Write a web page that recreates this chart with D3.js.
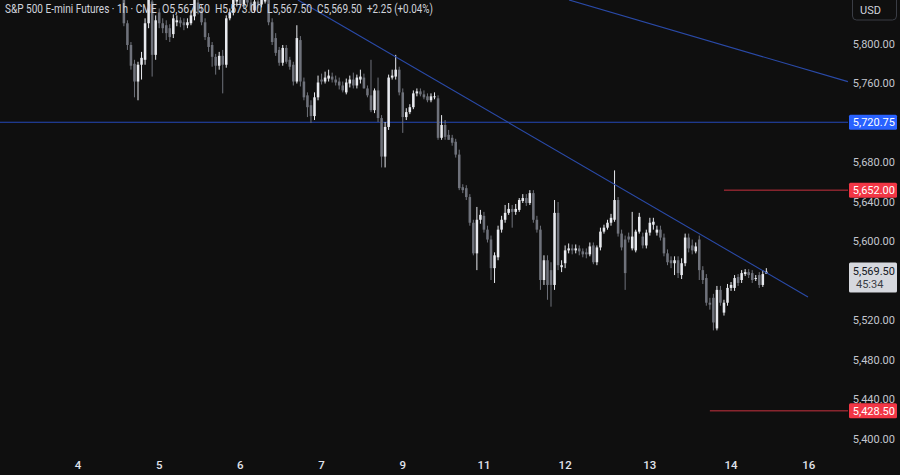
<!DOCTYPE html>
<html><head><meta charset="utf-8">
<script src="https://cdn.jsdelivr.net/npm/d3@7"></script>
<style>html,body{margin:0;padding:0;background:#0f0f0f;overflow:hidden}</style>
</head><body><svg id="c" width="900" height="475"></svg>
<script>
// ---- data (hourly candles, first visible bar index = 13) ----
const firstBar = 13;
const opens = [
5845,5821,5799,5780,5762,5779,5784,5821,5843,5789,5832,5821,5819,5816,5810,5822,5824,5822,5819,5821,5828,5842,5834,
5822,5807,5799,5787,5778,5788,5779,5826,5832,5843,5850,5840,5847,5842,5834,5843,5840,5843,5848,5822,5806,5794,5781,
5796,5784,5779,5762,5804,5762,5748,5738,5727,5746,5764,5762,5765,5767,5764,5762,5758,5751,5760,5764,5758,5764,5766,
5755,5748,5733,5753,5725,5686,5716,5766,5767,5774,5751,5726,5731,5736,5750,5752,5749,5747,5743,5746,5745,5705,5718,
5708,5705,5701,5688,5655,5654,5645,5619,5588,5622,5626,5612,5602,5573,5584,5612,5622,5629,5633,5630,5632,5641,5644,
5639,5649,5622,5612,5561,5581,5571,5556,5629,5574,5578,5591,5593,5591,5593,5590,5589,5587,5596,5579,5594,5610,5614,
5619,5622,5642,5608,5602,5605,5593,5591,5610,5605,5596,5609,5617,5609,5612,5604,5588,5581,5578,5581,5566,5578,5604,
5596,5590,5602,5571,5563,5538,5543,5512,5551,5528,5538,5553,5553,5564,5561,5567,5569,5568,5562,5566,5556,5567.5];
const highs = [
5850,5824,5802,5784,5782,5792,5826,5850,5845,5829,5836,5826,5824,5820,5830,5829,5827,5826,5826,5834,5850,5845,5840,
5826,5811,5802,5790,5792,5794,5829,5836,5850,5860,5855,5853,5851,5847,5849,5851,5850,5853,5853,5826,5811,5797,5799,
5799,5787,5782,5819,5808,5766,5751,5743,5751,5768,5770,5772,5774,5771,5768,5766,5762,5765,5768,5771,5769,5774,5770,
5758,5784,5755,5766,5728,5721,5769,5774,5789,5777,5755,5735,5739,5753,5755,5755,5753,5750,5750,5751,5748,5728,5723,
5713,5708,5704,5693,5658,5657,5648,5622,5635,5632,5630,5616,5606,5589,5616,5626,5637,5639,5637,5638,5644,5648,5648,
5652,5652,5626,5616,5586,5586,5579,5642,5640,5581,5596,5598,5597,5597,5596,5593,5593,5599,5599,5596,5614,5617,5622,
5628,5672,5645,5612,5606,5609,5630,5612,5629,5609,5612,5624,5624,5616,5616,5608,5592,5585,5585,5585,5583,5608,5608,
5602,5599,5606,5575,5567,5543,5547,5555,5555,5541,5557,5559,5566,5567,5571,5572,5572,5571,5566,5569,5571,5573];
const lows = [
5818,5794,5774,5746,5743,5764,5779,5816,5767,5784,5816,5811,5804,5802,5806,5818,5817,5814,5816,5819,5824,5830,5819,
5804,5792,5777,5769,5774,5750,5776,5824,5829,5838,5836,5836,5838,5832,5832,5836,5837,5841,5819,5799,5788,5778,5778,
5780,5774,5758,5760,5757,5743,5726,5720,5723,5743,5759,5760,5762,5761,5758,5754,5751,5749,5756,5755,5755,5760,5755,
5746,5731,5730,5721,5675,5675,5713,5764,5764,5748,5710,5723,5729,5734,5747,5747,5744,5741,5741,5744,5703,5703,5703,
5703,5697,5685,5652,5649,5642,5616,5586,5571,5618,5609,5599,5561,5558,5581,5609,5619,5627,5614,5627,5630,5639,5636,
5637,5619,5609,5551,5556,5541,5534,5551,5571,5569,5573,5588,5587,5588,5586,5584,5583,5585,5577,5576,5591,5608,5612,
5616,5620,5605,5591,5551,5599,5591,5589,5608,5593,5593,5606,5612,5606,5601,5585,5576,5573,5566,5563,5562,5575,5589,
5587,5588,5561,5557,5535,5531,5510,5510,5535,5525,5535,5550,5550,5555,5558,5565,5563,5558,5560,5553,5554,5567.5];
const closes = [
5821,5799,5778,5762,5779,5786,5821,5845,5789,5824,5821,5816,5811,5807,5826,5824,5821,5819,5822,5829,5845,5834,5822,
5807,5797,5787,5778,5788,5779,5826,5832,5845,5850,5840,5847,5842,5834,5843,5840,5845,5848,5822,5802,5791,5781,5796,
5782,5777,5762,5806,5762,5746,5736,5727,5746,5761,5762,5766,5768,5764,5761,5758,5753,5761,5764,5758,5766,5767,5755,
5748,5733,5753,5725,5686,5716,5766,5768,5774,5751,5726,5731,5736,5750,5752,5749,5746,5743,5747,5747,5705,5718,5706,
5703,5700,5688,5654,5652,5645,5619,5588,5622,5627,5612,5602,5573,5586,5612,5622,5629,5633,5630,5633,5642,5644,5639,
5649,5622,5612,5561,5581,5556,5556,5629,5576,5576,5591,5593,5591,5593,5590,5587,5587,5595,5579,5594,5610,5614,5619,
5624,5642,5608,5594,5568,5602,5605,5610,5625,5596,5609,5619,5620,5612,5604,5588,5579,5578,5581,5568,5578,5604,5593,
5591,5595,5571,5561,5538,5536,5518,5551,5538,5538,5553,5556,5563,5558,5568,5569,5566,5561,5563,5556,5567,5569.5];

const dayLabels = ["4","5","6","7","9","11","12","13","14","16"];
const dayBars   = [0,23,46,69,92,115,138,162,185,207];
const priceTicks = [5400,5440,5480,5520,5600,5640,5680,5760,5800];
const blueLevel = 5720.75;
const redLevels = [5652.00, 5428.50];
const redStartBars = [183, 179];
const lastPrice = 5569.50;
const countdown = "45:34";
const trendLines = [
  [[62.3, 5844.6],[206.8, 5543.8]],
  [[139.1, 5844.6],[218.1, 5761.9]]
];
const headerParts = ["S&P 500 E-mini Futures · 1h · CME","O5,567.50","H5,573.00","L5,567.50","C5,569.50","+2.25 (+0.04%)"];
const headerX = [5, 162, 215, 267, 317, 367];
const headerW = [152, 48, 47, 45, 45, 66];

// ---- drawing ----
const W = 900, H = 475, axisLeft = 848;
const svg = d3.select("#c");
const FONT = "Roboto, 'Noto Sans', sans-serif";
const x = d3.scaleLinear().domain([0, 207]).range([78, 808.7]);
const y = d3.scaleLinear().domain([5400, 5800]).range([439, 44]);
const step = x(1) - x(0);

svg.append("rect").attr("width", W).attr("height", H).attr("fill", "#0f0f0f");
svg.append("defs").append("clipPath").attr("id", "plot")
  .append("rect").attr("x", 0).attr("y", 0).attr("width", axisLeft).attr("height", H);

const plot = svg.append("g").attr("clip-path", "url(#plot)");

// horizontal levels
plot.append("line").attr("x1", 0).attr("x2", axisLeft)
  .attr("y1", y(blueLevel)).attr("y2", y(blueLevel))
  .attr("stroke", "#2448b8").attr("stroke-width", 1);
redLevels.forEach((v, k) => {
  plot.append("line").attr("x1", x(redStartBars[k])).attr("x2", axisLeft)
    .attr("y1", y(v)).attr("y2", y(v))
    .attr("stroke", "#c8313f").attr("stroke-width", 1);
});

// candles
const bars = opens.map((o, k) => ({i: firstBar + k, o, h: highs[k], l: lows[k], c: closes[k]}));
const upCol = "#e8eaef", dnCol = "#6f727b";
const g = plot.append("g");
g.selectAll("line.w").data(bars).join("line").attr("class", "w")
  .attr("x1", d => x(d.i)).attr("x2", d => x(d.i))
  .attr("y1", d => y(d.h)).attr("y2", d => y(d.l))
  .attr("stroke", d => d.c >= d.o ? upCol : dnCol).attr("stroke-width", 1);
const bw = step * 0.72;
g.selectAll("rect.b").data(bars).join("rect").attr("class", "b")
  .attr("x", d => x(d.i) - bw / 2).attr("width", bw)
  .attr("y", d => y(Math.max(d.o, d.c)))
  .attr("height", d => Math.max(1, Math.abs(y(d.o) - y(d.c))))
  .attr("fill", d => d.c >= d.o ? upCol : dnCol);

// trend lines
trendLines.forEach(t => {
  plot.append("line")
    .attr("x1", x(t[0][0])).attr("y1", y(t[0][1]))
    .attr("x2", x(t[1][0])).attr("y2", y(t[1][1]))
    .attr("stroke", "#2a4aa8").attr("stroke-width", 1.1);
});

// price axis
const ax = svg.append("g");
priceTicks.forEach(v => {
  ax.append("text").attr("x", 895).attr("y", y(v)).attr("dy", "0.35em")
    .attr("text-anchor", "end").attr("font-family", FONT).attr("font-size", 11)
    .attr("fill", "#c3c6ce").text(d3.format(",.2f")(v));
});
function tag(v, fill, tcol) {
  ax.append("rect").attr("x", 849).attr("y", y(v) - 7.5).attr("width", 48).attr("height", 15)
    .attr("rx", 1.5).attr("fill", fill);
  ax.append("text").attr("x", 895).attr("y", y(v)).attr("dy", "0.35em")
    .attr("text-anchor", "end").attr("font-family", FONT).attr("font-size", 11)
    .attr("fill", tcol).text(d3.format(",.2f")(v));
}
tag(blueLevel, "#2962ff", "#ffffff");
redLevels.forEach(v => tag(v, "#f23645", "#ffffff"));
// last price tag
ax.append("rect").attr("x", 849).attr("y", y(lastPrice) - 9).attr("width", 48).attr("height", 30)
  .attr("rx", 1.5).attr("fill", "#d6d8de");
ax.append("text").attr("x", 895).attr("y", y(lastPrice)).attr("dy", "0.35em")
  .attr("text-anchor", "end").attr("font-family", FONT).attr("font-size", 11)
  .attr("fill", "#131722").text(d3.format(",.2f")(lastPrice));
ax.append("text").attr("x", 856).attr("y", y(lastPrice) + 13).attr("dy", "0.35em")
  .attr("font-family", FONT).attr("font-size", 11)
  .attr("fill", "#3a3d45").text(countdown);
// USD box
ax.append("rect").attr("x", 852.5).attr("y", -4).attr("width", 44).attr("height", 24).attr("rx", 4)
  .attr("fill", "none").attr("stroke", "#3a3d45");
ax.append("text").attr("x", 860).attr("y", 10).attr("dy", "0.35em")
  .attr("font-family", FONT).attr("font-size", 11).attr("fill", "#d1d4dc").text("USD");

// time axis
dayLabels.forEach((lab, k) => {
  svg.append("text").attr("x", x(dayBars[k])).attr("y", 465).attr("dy", "0.35em")
    .attr("text-anchor", "middle").attr("font-family", FONT).attr("font-size", 11.5)
    .attr("font-weight", 500).attr("fill", "#e0e3eb").text(lab);
});

// header legend (horizontally condensed to match the reference widths)
headerParts.forEach((t, k) => {
  const gg = svg.append("g");
  const tx = gg.append("text").attr("x", 0).attr("y", 0).attr("dy", "0.35em")
    .attr("font-family", FONT).attr("font-size", 12.5).attr("fill", "#d1d4dc").text(t);
  const natural = tx.node().getComputedTextLength();
  const sx = Math.min(1, headerW[k] / natural);
  gg.attr("transform", `translate(${headerX[k]},9) scale(${sx},1)`);
});
</script></body></html>
